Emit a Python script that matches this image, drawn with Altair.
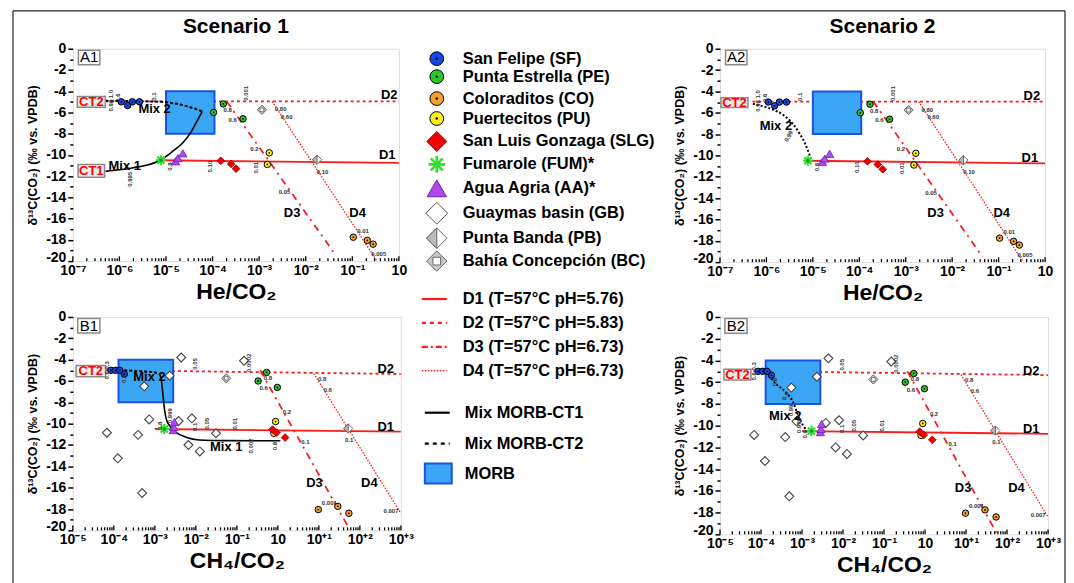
import altair as alt
import pandas as pd

FONT = "Liberation Sans"

# ---------------- data ----------------
SF_HE = [1.1e-6, 1.5e-6, 1.9e-6, 2.7e-6]
SF_CH4 = [8.5e-5, 1.8e-4, 1.1e-4, 1.4e-4]
SF_D13C = [-5.0, -5.35, -5.0, -5.0]

PE_HE = [1.7e-4, 1.05e-4, 4.5e-4]
PE_CH4 = [0.53, 0.33, 0.97]
PE_D13C = [-5.2, -6.0, -6.6]

CO_HE = [0.105, 0.21, 0.28]
CO_CH4 = [29.0, 9.7, 54.0]
CO_D13C = [-17.75, -18.05, -18.4]

PU_HE = [1.65e-3, 1.5e-3]
PU_CH4 = [0.88, 0.8]
PU_D13C = [-9.8, -10.9]

SLG_HE = [1.5e-4, 2.5e-4, 3.2e-4]
SLG_CH4 = [0.74, 0.93, 1.5]
SLG_D13C = [-10.55, -10.85, -11.3]

FUM_HE = [7.8e-6]
FUM_CH4 = [1.7e-3]
FUM_D13C = [-10.5]

AA_HE = [1.6e-5, 1.8e-5, 2.3e-5]
AA_CH4 = [2.8e-3, 2.9e-3, 3.0e-3]
AA_D13C = [-10.6, -10.3, -9.85]

GB_CH4 = [4.4e-3, 0.15, 2.3e-3, 5.5e-4, 7.3e-4, 3.8e-3, 8.0e-3, 0.031, 6.8e-5, 3.9e-4, 6.6e-3, 0.0125, 1.25e-4, 4.9e-4]
GB_D13C = [-3.8, -4.1, -5.5, -6.5, -9.6, -9.75, -9.5, -10.9, -10.85, -11.05, -12.0, -12.6, -13.25, -16.5]

PB_HE = [1.75e-2]
PB_CH4 = [52.0]
PB_D13C = [-10.45]

BC_HE = [1.15e-3]
BC_CH4 = [0.055]
BC_D13C = [-5.75]

MORB_HE = [1.0e-5, 1.1e-4]
MORB_CH4 = [1.3e-4, 2.8e-3]
MORB_D13C = [-4.0, -8.0]

# degassing lines D1..D4 (end points)
D1_HE, D1_CH4, D1_Y = [7.8e-6, 1.0], [1.0e-3, 1.0e3], [-10.5, -10.75]
D2_HE, D2_HE_Y = [5.0e-7, 1.0], [-4.95, -4.95]
D2_CH4, D2_CH4_Y = [6.5e-5, 1.0e3], [-4.98, -5.35]
D3_HE, D3_HE_Y = [2.0e-4, 0.045], [-4.95, -19.5]
D3_CH4, D3_CH4_Y = [0.37, 58.0], [-5.0, -20.0]
D4_HE, D4_HE_Y = [1.9e-3, 0.34], [-4.95, -20.0]
D4_CH4, D4_CH4_Y = [7.5, 1000.0], [-5.3, -18.4]

# mixing curves
A1_MIX1_X = [5.0e-7, 1.0e-6, 2.0e-6, 4.0e-6, 7.5e-6, 1.4e-5, 2.3e-5, 3.5e-5, 4.8e-5, 6.0e-5]
A1_MIX1_Y = [-11.55, -11.4, -11.2, -10.95, -10.5, -9.65, -8.85, -7.8, -6.7, -5.9]
A1_MIX2_X = [5.0e-7, 1.0e-6, 3.0e-6, 8.0e-6, 1.3e-5, 2.0e-5, 3.0e-5, 4.5e-5, 6.0e-5]
A1_MIX2_Y = [-4.9, -4.92, -4.95, -5.0, -5.1, -5.25, -5.45, -5.7, -5.9]
A2_MIX2_X = [5.1e-7, 1.26e-6, 2.4e-6, 3.7e-6, 5.2e-6, 6.6e-6, 7.8e-6, 9.1e-6]
A2_MIX2_Y = [-5.17, -5.64, -6.26, -7.04, -7.97, -8.76, -9.53, -10.3]
B1_MIX1_X = [1.3e-3, 1.45e-3, 1.6e-3, 1.74e-3, 1.96e-3, 2.5e-3, 3.3e-3, 5.8e-3, 0.012, 0.055, 0.3, 1.15]
B1_MIX1_Y = [-5.36, -5.98, -7.54, -8.79, -9.72, -10.35, -10.81, -11.28, -11.53, -11.59, -11.6, -11.6]
B1_MIX2_X = [1.8e-4, 3.0e-4, 6.0e-4, 1.0e-3, 1.3e-3]
B1_MIX2_Y = [-5.0, -5.05, -5.1, -5.2, -5.36]
B2_MIX2_X = [1.5e-4, 2.4e-4, 4.2e-4, 6.2e-4, 8.1e-4, 1.07e-3, 1.4e-3]
B2_MIX2_Y = [-5.4, -6.2, -7.0, -7.9, -9.1, -10.0, -10.6]

# axis ticks / labels
A_MAJOR = [1e-7, 1e-6, 1e-5, 1e-4, 1e-3, 1e-2, 1e-1, 1.0]
A_LABELS = ["10⁻⁷", "10⁻⁶", "10⁻⁵", "10⁻⁴", "10⁻³", "10⁻²", "10⁻¹", "10"]
B_MAJOR = [1e-5, 1e-4, 1e-3, 1e-2, 1e-1, 1.0, 1e1, 1e2, 1e3]
B_LABELS = ["10⁻⁵", "10⁻⁴", "10⁻³", "10⁻²", "10⁻¹", "10", "10⁺¹", "10⁺²", "10⁺³"]
Y_TICKS = list(range(-20, 1))

# small annotation numbers (x, y, text, angle)
A_SMALL = [
    (2.1e-4, -5.8, "0.8", 0), (2.7e-4, -6.7, "0.6", 0), (7.9e-4, -9.4, "0.2", 0), (3.5e-3, -13.5, "0.05", 0),
    (2.9e-3, -5.7, "0.80", 0), (3.9e-3, -6.4, "0.60", 0), (2.3e-2, -11.6, "0.10", 0), (0.17, -17.2, "0.01", 0),
    (0.37, -19.3, "0.005", 0),
    (5.2e-4, -4.2, "0.001", 270), (8.5e-4, -11.2, "0.01", 270), (8.9e-5, -11.1, "0.10", 270),
    (1.2e-5, -11.1, "0.8", 270), (5.4e-6, -4.5, "0.1", 270), (9.2e-7, -4.6, "0.6", 270), (6.5e-7, -4.9, "0.98 1.0", 270),
]
A1_SMALL = [(1.7e-6, -12.3, "0.995", 270)]
A2_SMALL = [(3.0e-6, -8.2, "0.99", 300)]
B_SMALL = [
    (0.57, -5.7, "0.8", 0), (0.45, -6.7, "0.6", 0), (1.66, -8.9, "0.2", 0), (4.7, -11.7, "0.1", 0), (18.0, -17.4, "0.001", 0),
    (12.0, -5.8, "0.8", 0), (16.5, -6.85, "0.6", 0), (55.0, -11.5, "0.1", 0), (575.0, -18.2, "0.007", 0),
    (9.3e-3, -4.4, "0.05", 270), (0.2, -4.3, "0.0002", 270), (9.3e-3, -10.3, "0.1", 270),
    (0.019, -10.0, "0.05", 270), (0.089, -10.0, "0.01", 270), (6.9e-5, -5.0, "0.6 0.3", 270),
]
B1_SMALL = [(1.8e-4, -5.8, "0.8", 270), (2.3e-3, -9.25, "0.999", 270), (1.3e-3, -10.2, "0.8", 270),
            (0.22, -12.1, "0.002", 270), (0.87, -12.1, "0.8", 270)]
B2_SMALL = [(2.2e-4, -6.0, "0.8", 270), (4.0e-4, -7.3, "0.9", 300), (5.5e-4, -8.6, "0.99", 270),
            (8.5e-4, -10.0, "0.999", 270), (1.2e-3, -10.8, "0.8", 270)]

# big labels (x, y, text)
A1_BIG = [(0.62, -4.4, "D2"), (0.56, -10.0, "D1"), (5.1e-3, -15.5, "D3"), (0.13, -15.5, "D4"),
          (1.3e-6, -11.0, "Mix 1"), (5.7e-6, -5.7, "Mix 2")]
A2_BIG = [(0.52, -4.4, "D2"), (0.47, -10.2, "D1"), (4.4e-3, -15.4, "D3"), (0.117, -15.4, "D4"),
          (1.6e-6, -7.2, "Mix 2")]
B1_BIG = [(427.0, -4.9, "D2"), (427.0, -10.3, "D1"), (7.8, -15.6, "D3"), (170.0, -15.6, "D4"),
          (0.055, -12.2, "Mix 1"), (7.4e-4, -5.6, "Mix 2")]
B2_BIG = [(390.0, -5.0, "D2"), (390.0, -10.3, "D1"), (8.5, -15.7, "D3"), (170.0, -15.7, "D4"),
          (3.9e-4, -9.1, "Mix 2")]

# CT boxes (x0, x1, y0, y1, text)
A1_CT = [(1.25e-7, 5.0e-7, -4.5, -5.5, "CT2"), (1.3e-7, 4.8e-7, -10.9, -12.1, "CT1")]
A2_CT = [(1.05e-7, 4.0e-7, -4.6, -5.5, "CT2")]
B1_CT = [(1.2e-5, 6.3e-5, -4.55, -5.6, "CT2")]
B2_CT = [(1.25e-5, 5.7e-5, -4.8, -5.8, "CT2")]

SF_COL, PE_COL, CO_COL, PU_COL = "#1447e6", "#2fc42f", "#f6a032", "#fff01a"
SLG_COL, FUM_COL, AA_COL = "#f00000", "#2fe02f", "#b048f0"
RED = "#ff1a1a"
ASTER = "M-1,0L1,0M0,-1L0,1M-0.72,-0.72L0.72,0.72M-0.72,0.72L0.72,-0.72"
HALF = "M0,-1L-1,0L0,1Z"


def tbl(xs, ys):
    return pd.DataFrame({"x": xs, "y": ys})


def panel(kind, pid, w, h, title, mixes, small, big, cts):
    A = kind == "A"
    dom = [1e-7, 1.0] if A else [1e-5, 1e3]
    majors = A_MAJOR if A else B_MAJOR
    labels = A_LABELS if A else B_LABELS
    off = 7 if A else 5
    expr = "[" + ",".join("'%s'" % s for s in labels) + "][round(log(datum.value)/LN10)+%d]" % off
    xaxis = alt.Axis(values=majors, labelExpr=expr, ticks=False, domain=False, grid=False,
                     labelFont=FONT, labelFontWeight="bold", labelFontSize=14, labelColor="black",
                     labelPadding=2, labelOverlap=False, labelFlush=False,
                     title="He/CO₂" if A else "CH₄/CO₂", titleFont=FONT, titleFontSize=23,
                     titleFontWeight="bold", titleColor="black", titlePadding=3)
    yaxis = alt.Axis(values=Y_TICKS, labelExpr="datum.value % 2 == 0 ? toString(datum.value) : ''",
                     tickSize={"condition": {"test": "datum.value % 2 == 0", "value": 5}, "value": 3},
                     labelBaseline={"condition": {"test": "datum.value == -20", "value": "alphabetic"}, "value": "middle"},
                     tickColor="black", tickWidth=1.5, domain=False, grid=False,
                     labelFont=FONT, labelFontWeight="bold", labelFontSize=14, labelColor="black",
                     labelPadding=2, labelOverlap=False,
                     title="δ¹³C(CO₂) (‰ vs. VPDB)", titleFont=FONT, titleFontSize=12.5,
                     titleFontWeight="bold", titleColor="black", titlePadding=6)
    xs = alt.Scale(type="log", domain=dom, nice=False)
    ys = alt.Scale(domain=[-20, 0], nice=False, zero=False)
    X = alt.X("x:Q", scale=xs, axis=xaxis)
    Y = alt.Y("y:Q", scale=ys, axis=yaxis)

    layers = []
    minors = []
    for m in majors[:-1]:
        for k in range(2, 10):
            minors.append(m * k)
    tk = pd.DataFrame({"x": majors + minors, "y": [-20.0] * (len(majors) + len(minors)),
                       "y2": [-19.55] * len(majors) + [-19.72] * len(minors)})
    layers.append(alt.Chart(tk).mark_rule(color="black", strokeWidth=1.3).encode(X, Y, y2="y2:Q"))

    if A:
        dl = [(D1_HE, D1_Y, None), (D2_HE, D2_HE_Y, [3, 3]), (D3_HE, D3_HE_Y, [7, 5, 2, 5]), (D4_HE, D4_HE_Y, [1.5, 1.5])]
    else:
        dl = [(D1_CH4, D1_Y, None), (D2_CH4, D2_CH4_Y, [3, 3]), (D3_CH4, D3_CH4_Y, [7, 5, 2, 5]), (D4_CH4, D4_CH4_Y, [1.5, 1.5])]
    for xs_, ys_, dash in dl:
        mk = dict(color=RED, strokeWidth=1.3 if dash == [1.5, 1.5] else 1.8, clip=True)
        if dash:
            mk["strokeDash"] = dash
        layers.append(alt.Chart(tbl(xs_, ys_)).mark_line(**mk).encode(X, Y))

    mx = MORB_HE if A else MORB_CH4
    mdf = pd.DataFrame({"x": [mx[0]], "x2": [mx[1]], "y": [MORB_D13C[0]], "y2": [MORB_D13C[1]]})
    layers.append(alt.Chart(mdf).mark_rect(fill="#3aa6f4", stroke="#1a52e8", strokeWidth=2).encode(X, Y, x2="x2:Q", y2="y2:Q"))

    for xs_, ys_, dash in mixes:
        mk = dict(color="black", strokeWidth=1.6, interpolate="monotone", clip=True)
        if dash:
            mk["strokeDash"] = dash
            mk["strokeWidth"] = 2
        layers.append(alt.Chart(tbl(xs_, ys_)).mark_line(**mk).encode(X, Y))

    cdf = pd.DataFrame({"x": [c[0] for c in cts], "x2": [c[1] for c in cts], "y": [c[2] for c in cts],
                        "y2": [c[3] for c in cts]})
    layers.append(alt.Chart(cdf).mark_rect(fill="#ececec", stroke="#8a8a8a", strokeWidth=1.5).encode(X, Y, x2="x2:Q", y2="y2:Q"))
    cdf2 = pd.DataFrame({"x": [(c[0] * c[1]) ** 0.5 for c in cts], "y": [(c[2] + c[3]) / 2 for c in cts],
                         "t": [c[4] for c in cts]})
    layers.append(alt.Chart(cdf2).mark_text(font=FONT, fontWeight="bold", fontSize=13, color="#ff0000",
                                            baseline="middle", align="center").encode(X, Y, text="t:N"))

    pdf = pd.DataFrame({"x": [dom[0] * 10 ** 0.12], "x2": [dom[0] * 10 ** (0.58 if A else 0.66)], "y": [-0.15], "y2": [-1.5]})
    layers.append(alt.Chart(pdf).mark_rect(fill="white", stroke="#8a8a8a", strokeWidth=1.5).encode(X, Y, x2="x2:Q", y2="y2:Q"))
    pdf2 = pd.DataFrame({"x": [dom[0] * 10 ** (0.35 if A else 0.39)], "y": [-0.82], "t": [pid]})
    layers.append(alt.Chart(pdf2).mark_text(font=FONT, fontSize=15, color="black", baseline="middle",
                                            align="center").encode(X, Y, text="t:N"))

    def circles(xs_, ys_, col):
        d = tbl(xs_, ys_)
        return [alt.Chart(d).mark_point(shape="circle", filled=True, fill=col, stroke="black", strokeWidth=1,
                                        size=42, opacity=1).encode(X, Y),
                alt.Chart(d).mark_point(shape="circle", filled=True, color="black", size=3, opacity=1).encode(X, Y)]

    if A:
        sf, pe, co, pu, slg, fum, aa, pb, bc = SF_HE, PE_HE, CO_HE, PU_HE, SLG_HE, FUM_HE, AA_HE, PB_HE, BC_HE
    else:
        sf, pe, co, pu, slg, fum, aa, pb, bc = SF_CH4, PE_CH4, CO_CH4, PU_CH4, SLG_CH4, FUM_CH4, AA_CH4, PB_CH4, BC_CH4
    if not A:
        layers.append(alt.Chart(tbl(GB_CH4, GB_D13C)).mark_point(shape="diamond", filled=True, fill="white",
                                                                 stroke="#444444", strokeWidth=1.1, size=80, opacity=1).encode(X, Y))
    pbd = tbl(pb, PB_D13C)
    layers.append(alt.Chart(pbd).mark_point(shape="diamond", filled=True, fill="white", stroke="#666666",
                                            strokeWidth=1, size=85, opacity=1).encode(X, Y))
    layers.append(alt.Chart(pbd).mark_point(shape=HALF, filled=True, fill="#bbbbbb", stroke="#666666",
                                            strokeWidth=1, size=85, opacity=1).encode(X, Y))
    bcd = tbl(bc, BC_D13C)
    layers.append(alt.Chart(bcd).mark_point(shape="diamond", filled=True, fill="#c8c8c8", stroke="#666666",
                                            strokeWidth=1, size=85, opacity=1).encode(X, Y))
    layers.append(alt.Chart(bcd).mark_point(shape="square", filled=True, fill="white", stroke="#666666",
                                            strokeWidth=0.8, size=14, opacity=1).encode(X, Y))
    layers += circles(sf, SF_D13C, SF_COL)
    layers += circles(pe, PE_D13C, PE_COL)
    layers += circles(co, CO_D13C, CO_COL)
    layers += circles(pu, PU_D13C, PU_COL)
    layers.append(alt.Chart(tbl(slg, SLG_D13C)).mark_point(shape="diamond", filled=True, fill=SLG_COL, stroke="#a00000",
                                                           strokeWidth=0.8, size=60, opacity=1).encode(X, Y))
    fd = tbl(fum, FUM_D13C)
    layers.append(alt.Chart(fd).mark_point(shape=ASTER, filled=False, stroke=FUM_COL, strokeWidth=2.2, size=100,
                                           opacity=1).encode(X, Y))
    layers.append(alt.Chart(fd).mark_point(shape="circle", filled=True, color="#1a9a1a", size=12, opacity=1).encode(X, Y))
    layers.append(alt.Chart(tbl(aa, AA_D13C)).mark_point(shape="triangle-up", filled=True, fill=AA_COL, stroke="#7020b0",
                                                         strokeWidth=0.8, size=70, opacity=1).encode(X, Y))

    for ang in sorted(set(s[3] for s in small)):
        sub = [s for s in small if s[3] == ang]
        sd = pd.DataFrame({"x": [s[0] for s in sub], "y": [s[1] for s in sub], "t": [s[2] for s in sub]})
        layers.append(alt.Chart(sd).mark_text(font=FONT, fontSize=6, fontWeight="bold", color="#333333", angle=ang,
                                              align="center", baseline="middle").encode(X, Y, text="t:N"))
    bd = pd.DataFrame({"x": [b[0] for b in big], "y": [b[1] for b in big], "t": [b[2] for b in big]})
    layers.append(alt.Chart(bd).mark_text(font=FONT, fontSize=13, fontWeight="bold", color="black",
                                          align="center", baseline="middle").encode(X, Y, text="t:N"))

    ch = alt.layer(*layers).properties(width=w, height=h)
    if title:
        ch = ch.properties(title=alt.Title(title, font=FONT, fontSize=21, fontWeight="bold", color="black",
                                           anchor="middle", offset=5))
    return ch


A1 = panel("A", "A1", 327, 213, "Scenario 1",
           [(A1_MIX1_X, A1_MIX1_Y, None), (A1_MIX2_X, A1_MIX2_Y, [3, 2])], A_SMALL + A1_SMALL, A1_BIG, A1_CT)
B1 = panel("B", "B1", 329, 214, None,
           [(B1_MIX1_X, B1_MIX1_Y, None), (B1_MIX2_X, B1_MIX2_Y, [3, 2])], B_SMALL + B1_SMALL, B1_BIG, B1_CT)
A2 = panel("A", "A2", 326, 214, "Scenario 2",
           [(A2_MIX2_X, A2_MIX2_Y, [2, 2])], A_SMALL + A2_SMALL, A2_BIG, A2_CT)
B2 = panel("B", "B2", 329, 218, None,
           [(B2_MIX2_X, B2_MIX2_Y, [2, 2])], B_SMALL + B2_SMALL, B2_BIG, B2_CT)

# ---------------- custom legend (layout in legend-pixel units) ----------------
COL_GAP, ROW_GAP = 13, 55
LW, LH = 294, 200
LEG_X0, LEG_Y0 = 73 + 329 + COL_GAP, 47     # page position of the legend cell
LEG_MARK_NAMES = ["San Felipe (SF)", "Punta Estrella (PE)", "Coloraditos (CO)", "Puertecitos (PU)",
                  "San Luis Gonzaga (SLG)", "Fumarole (FUM)*", "Agua Agria (AA)*", "Guaymas basin (GB)",
                  "Punta Banda (PB)", "Bahía Concepción (BC)"]
LEG_MARK_Y = [57, 75, 97, 117, 140, 163, 187, 212, 237, 260]
LEG_LINE_NAMES = ["D1 (T=57°C pH=5.76)", "D2 (T=57°C pH=5.83)", "D3 (T=57°C pH=6.73)", "D4 (T=57°C pH=6.73)"]
LEG_LINE_Y = [298, 322, 346, 370]
LEG_MIX_NAMES = ["Mix MORB-CT1", "Mix MORB-CT2"]
LEG_MIX_Y = [412, 443]
LEG_MORB_Y = 473
SYM_X = 438 - LEG_X0
TXT_X = 464 - LEG_X0

ly_scale = alt.Scale(domain=[0, 600], range=[0, 600])


def LY(field="ly"):
    return alt.Y(field + ":Q", scale=ly_scale, axis=None)


def rows(ys):
    return pd.DataFrame({"ly": [y - LEG_Y0 for y in ys]})


leg = []
t1 = rows(LEG_MARK_Y + LEG_LINE_Y)
t1["t"] = LEG_MARK_NAMES + LEG_LINE_NAMES
leg.append(alt.Chart(t1).mark_text(font=FONT, fontSize=16.5, fontWeight="bold", color="black", align="left",
                                   baseline="middle").encode(x=alt.value(TXT_X), y=LY(), text="t:N"))
t2 = rows(LEG_MIX_Y + [LEG_MORB_Y])
t2["t"] = LEG_MIX_NAMES + ["MORB"]
leg.append(alt.Chart(t2).mark_text(font=FONT, fontSize=16.5, fontWeight="bold", color="black", align="left",
                                   baseline="middle").encode(x=alt.value(TXT_X + 2), y=LY(), text="t:N"))

for i, c in enumerate([SF_COL, PE_COL, CO_COL, PU_COL]):
    r = rows([LEG_MARK_Y[i]])
    leg.append(alt.Chart(r).mark_point(shape="circle", filled=True, fill=c, stroke="black", strokeWidth=1,
                                       size=190, opacity=1).encode(x=alt.value(SYM_X), y=LY()))
    leg.append(alt.Chart(r).mark_point(shape="circle", filled=True, color="black", size=6,
                                       opacity=1).encode(x=alt.value(SYM_X), y=LY()))
leg.append(alt.Chart(rows([LEG_MARK_Y[4]])).mark_point(shape="diamond", filled=True, fill=SLG_COL, stroke="#a00000",
                                                       strokeWidth=1, size=400, opacity=1).encode(x=alt.value(SYM_X), y=LY()))
leg.append(alt.Chart(rows([LEG_MARK_Y[5]])).mark_point(shape=ASTER, filled=False, stroke=FUM_COL, strokeWidth=2.6,
                                                       size=280, opacity=1).encode(x=alt.value(SYM_X), y=LY()))
leg.append(alt.Chart(rows([LEG_MARK_Y[6]])).mark_point(shape="triangle-up", filled=True, fill=AA_COL, stroke="#7020b0",
                                                       strokeWidth=1, size=380, opacity=1).encode(x=alt.value(SYM_X), y=LY()))
leg.append(alt.Chart(rows([LEG_MARK_Y[7]])).mark_point(shape="diamond", filled=True, fill="white", stroke="#555555",
                                                       strokeWidth=1, size=480, opacity=1).encode(x=alt.value(SYM_X), y=LY()))
leg.append(alt.Chart(rows([LEG_MARK_Y[8]])).mark_point(shape="diamond", filled=True, fill="white", stroke="#666666",
                                                       strokeWidth=1, size=420, opacity=1).encode(x=alt.value(SYM_X), y=LY()))
leg.append(alt.Chart(rows([LEG_MARK_Y[8]])).mark_point(shape=HALF, filled=True, fill="#bbbbbb", stroke="#666666",
                                                       strokeWidth=1, size=420, opacity=1).encode(x=alt.value(SYM_X), y=LY()))
leg.append(alt.Chart(rows([LEG_MARK_Y[9]])).mark_point(shape="diamond", filled=True, fill="#c8c8c8", stroke="#666666",
                                                       strokeWidth=1, size=420, opacity=1).encode(x=alt.value(SYM_X), y=LY()))
leg.append(alt.Chart(rows([LEG_MARK_Y[9]])).mark_point(shape="square", filled=True, fill="white", stroke="#666666",
                                                       strokeWidth=1, size=60, opacity=1).encode(x=alt.value(SYM_X), y=LY()))
for y, dash, sw in zip(LEG_LINE_Y, [None, [4, 4], [6, 3, 2, 3], [1.5, 1.5]], [2.2, 2.2, 2.2, 1.5]):
    mk = dict(color=RED, strokeWidth=sw)
    if dash:
        mk["strokeDash"] = dash
    leg.append(alt.Chart(rows([y])).mark_rule(**mk).encode(x=alt.value(423 - LEG_X0), x2=alt.value(448 - LEG_X0), y=LY()))
for y, dash in zip(LEG_MIX_Y, [None, [4, 4]]):
    mk = dict(color="black", strokeWidth=2.2)
    if dash:
        mk["strokeDash"] = dash
    leg.append(alt.Chart(rows([y])).mark_rule(**mk).encode(x=alt.value(426 - LEG_X0), x2=alt.value(451 - LEG_X0), y=LY()))
mr = rows([LEG_MORB_Y - 10])
mr["ly2"] = [LEG_MORB_Y + 10 - LEG_Y0]
leg.append(alt.Chart(mr).mark_rect(fill="#3aa6f4", stroke="#1a52e8", strokeWidth=2).encode(
    x=alt.value(426 - LEG_X0), x2=alt.value(453 - LEG_X0), y=LY(), y2="ly2:Q"))

# outer figure frame (page pixels: left 13, top 9, right 1068)
FR_L, FR_T, FR_R, FR_B = 13 - LEG_X0, 9 - LEG_Y0, 1068 - LEG_X0, 600 - LEG_Y0
fr = pd.DataFrame({"ly": [FR_T], "ly2": [FR_B]})
leg.append(alt.Chart(fr).mark_rule(color="#222222", strokeWidth=1.2).encode(x=alt.value(FR_L), y=LY(), y2="ly2:Q"))
leg.append(alt.Chart(fr).mark_rule(color="#222222", strokeWidth=1.2).encode(x=alt.value(FR_R), y=LY(), y2="ly2:Q"))
leg.append(alt.Chart(fr).mark_rule(color="#222222", strokeWidth=1.2).encode(x=alt.value(FR_L), x2=alt.value(FR_R), y=LY()))

legend = alt.layer(*leg).properties(width=LW, height=LH, view=alt.ViewBackground(strokeWidth=0, strokeOpacity=0))
filler = alt.Chart(pd.DataFrame({"ly": [0]})).mark_point(opacity=0).encode(
    x=alt.value(0), y=alt.value(0)).properties(width=LW, height=1, view=alt.ViewBackground(strokeWidth=0, strokeOpacity=0))

chart = alt.concat(A1, legend, A2, B1, filler, B2, columns=3,
                   spacing={"row": ROW_GAP, "column": COL_GAP}, bounds="flush").properties(
    padding={"left": 4, "top": 1, "right": 0, "bottom": 0}
).configure_view(stroke="black", strokeWidth=2).configure(font=FONT)

chart.save("out.html", embed_options={"renderer": "svg", "actions": False})
